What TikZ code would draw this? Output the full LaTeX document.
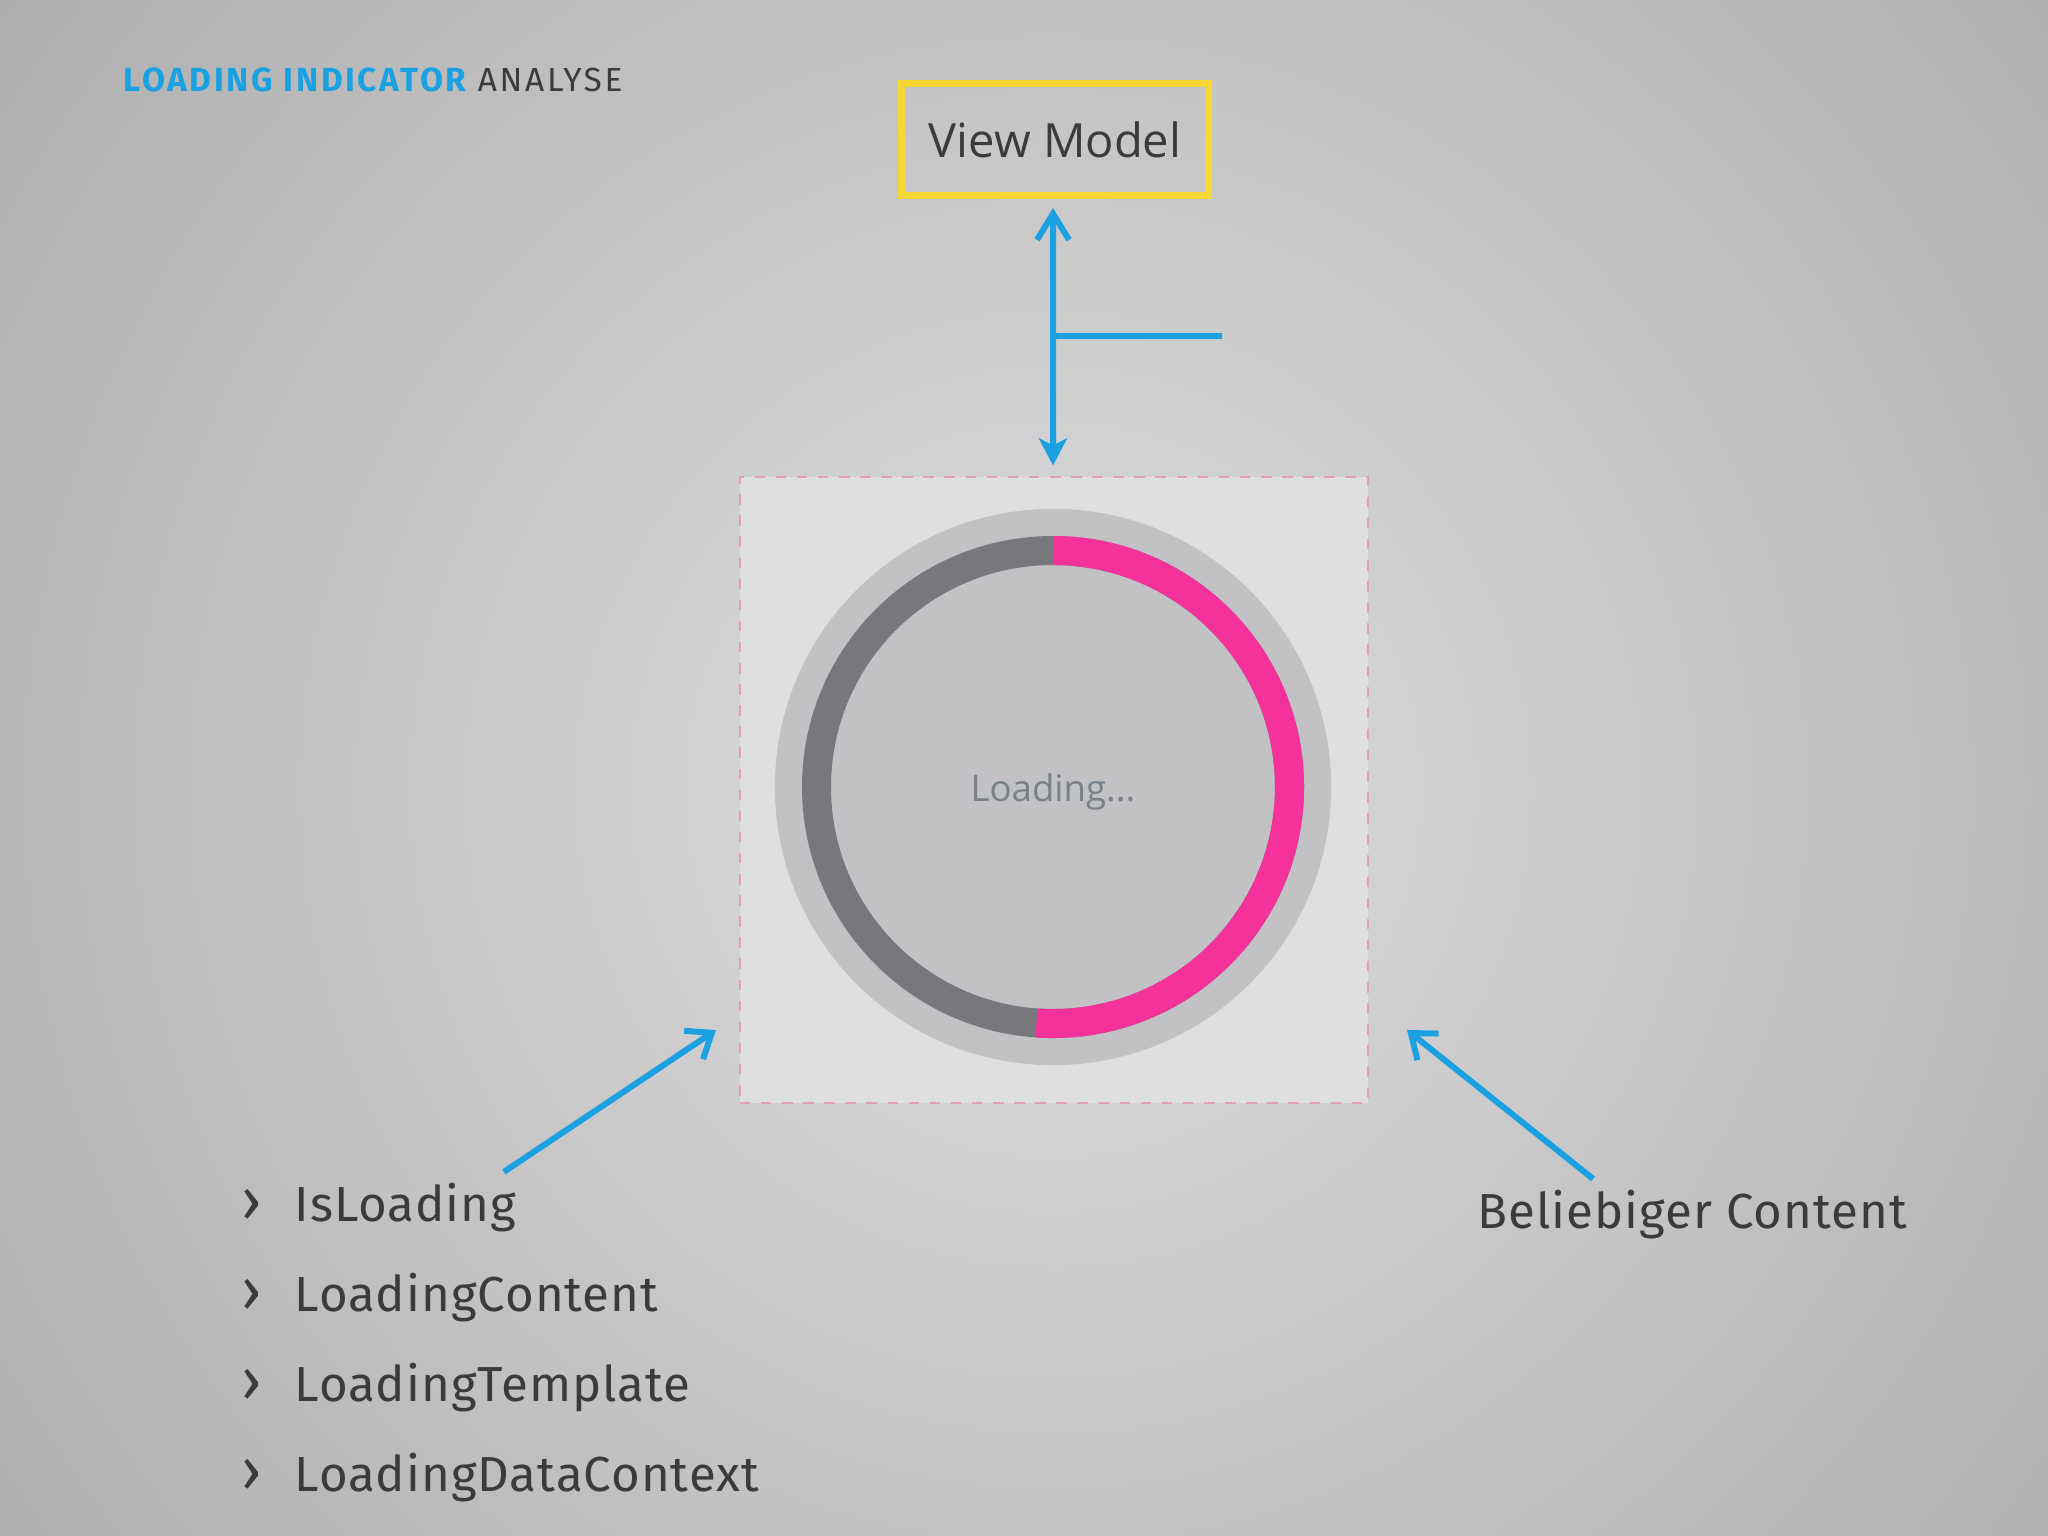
\documentclass[tikz,border=0pt]{standalone}
\usepackage{fontspec}
\setmainfont{Fira Sans}
\newfontfamily\titlefont[LetterSpace=8]{Fira Sans}
\newfontfamily\itemfont[LetterSpace=2]{Fira Sans}
\newfontfamily\uifont{Open Sans}
\usepackage{tikz}
\usetikzlibrary{positioning}
\usetikzlibrary{arrows.meta}

\definecolor{bgin}{HTML}{DEDEE0}
\definecolor{bgout}{HTML}{ADADAD}
\definecolor{metroblue}{HTML}{1BA1E2}
\definecolor{vmyellow}{HTML}{F7D733}
\definecolor{spinpink}{HTML}{F5319B}
\definecolor{spindark}{HTML}{78777B}
\definecolor{spinbg}{HTML}{C2C1C4}
\definecolor{panelbg}{HTML}{DFDFE1}
\definecolor{paneldash}{HTML}{E2A0B2}
\definecolor{textdark}{HTML}{3B3B3D}
\definecolor{loadgrey}{HTML}{7A8289}

\tikzset{
  link/.style={draw=metroblue, line width=0.06cm},
  item/.style={font=\itemfont\fontsize{14}{17}\selectfont, text=textdark, inner sep=0pt, anchor=base west},
  chev/.style={font=\itemfont\fontsize{17}{20}\selectfont, text=textdark, inner sep=0pt, anchor=base east}
}

\begin{document}
\begin{tikzpicture}[x=0.01cm,y=0.01cm]
   \useasboundingbox (0,0) rectangle (2048,-1536);
   \begin{scope}
     \clip (0,0) rectangle (2048,-1536);
     \shade[inner color=bgin, outer color=bgout] (1053,-789) circle (1350);
   \end{scope}

   \node[anchor=base west, inner sep=0pt, text=textdark,
         font=\titlefont\fontsize{9.5}{11}\selectfont] (title) at (123,-91)
         {{\bfseries\color{metroblue}LOADING INDICATOR} ANALYSE};

   \node[draw=vmyellow, line width=0.07cm, minimum width=3.07cm, minimum height=1.12cm,
         text=textdark, font=\uifont\fontsize{13.4}{16}\selectfont] (vm) at (1055,-139.5) {View Model};

   \node[draw=paneldash, dashed, fill=panelbg, line width=0.5pt, inner sep=0pt,
         minimum width=6.28cm, minimum height=6.25cm] (panel) at (1054,-790) {};

   \node[circle, fill=spinbg, minimum size=5.56cm, inner sep=0pt] (spin) at (1053,-787) {};
   \draw[spindark, line width=0.29cm] (spin.center) circle (236.5);
   \draw[spinpink, line width=0.29cm] ([shift={(90:236.5)}]spin.center)
        arc[start angle=90, end angle=-94, radius=236.5];
   \node[text=loadgrey, font=\uifont\fontsize{10.4}{12}\selectfont] (ld) at ([yshift=-0.05cm]spin.center) {Loading...};

   \coordinate (fork) at (1053,-336);
   \coordinate (forkend) at (1222,-336);
   \draw[link, {Straight Barb[length=0.26cm,width=0.32cm]}-{Stealth[length=0.27cm,width=0.28cm,inset=0.07cm]}]
        ([xshift=-0.02cm,yshift=-0.09cm]vm.south) -- ([xshift=-0.01cm,yshift=0.11cm]panel.north);
   \draw[link] (fork) -- (forkend);

   \node[item] (b_1) at (294,-1221) {IsLoading};
   \node[item] (b_2) at (294,-1311) {LoadingContent};
   \node[item] (b_3) at (294,-1401) {LoadingTemplate};
   \node[item] (b_4) at (294,-1491) {LoadingDataContext};
   \node[chev] (c_1) at (263,-1221) {›};
   \node[chev] (c_2) at (263,-1311) {›};
   \node[chev] (c_3) at (263,-1401) {›};
   \node[chev] (c_4) at (263,-1491) {›};

   \node[item] (any) at (1477,-1228) {Beliebiger Content};

   \coordinate (tipL) at (716,-1030);
   \coordinate (tipR) at (1407,-1030);
   \draw[link, -{Straight Barb[length=0.22cm,width=0.34cm]}] ([xshift=-0.13cm,yshift=0.1cm]b_1.north east) -- (tipL);
   \draw[link, -{Straight Barb[length=0.22cm,width=0.34cm]}] ([xshift=1.16cm,yshift=0.1cm]any.north west) -- (tipR);
\end{tikzpicture}
\end{document}
